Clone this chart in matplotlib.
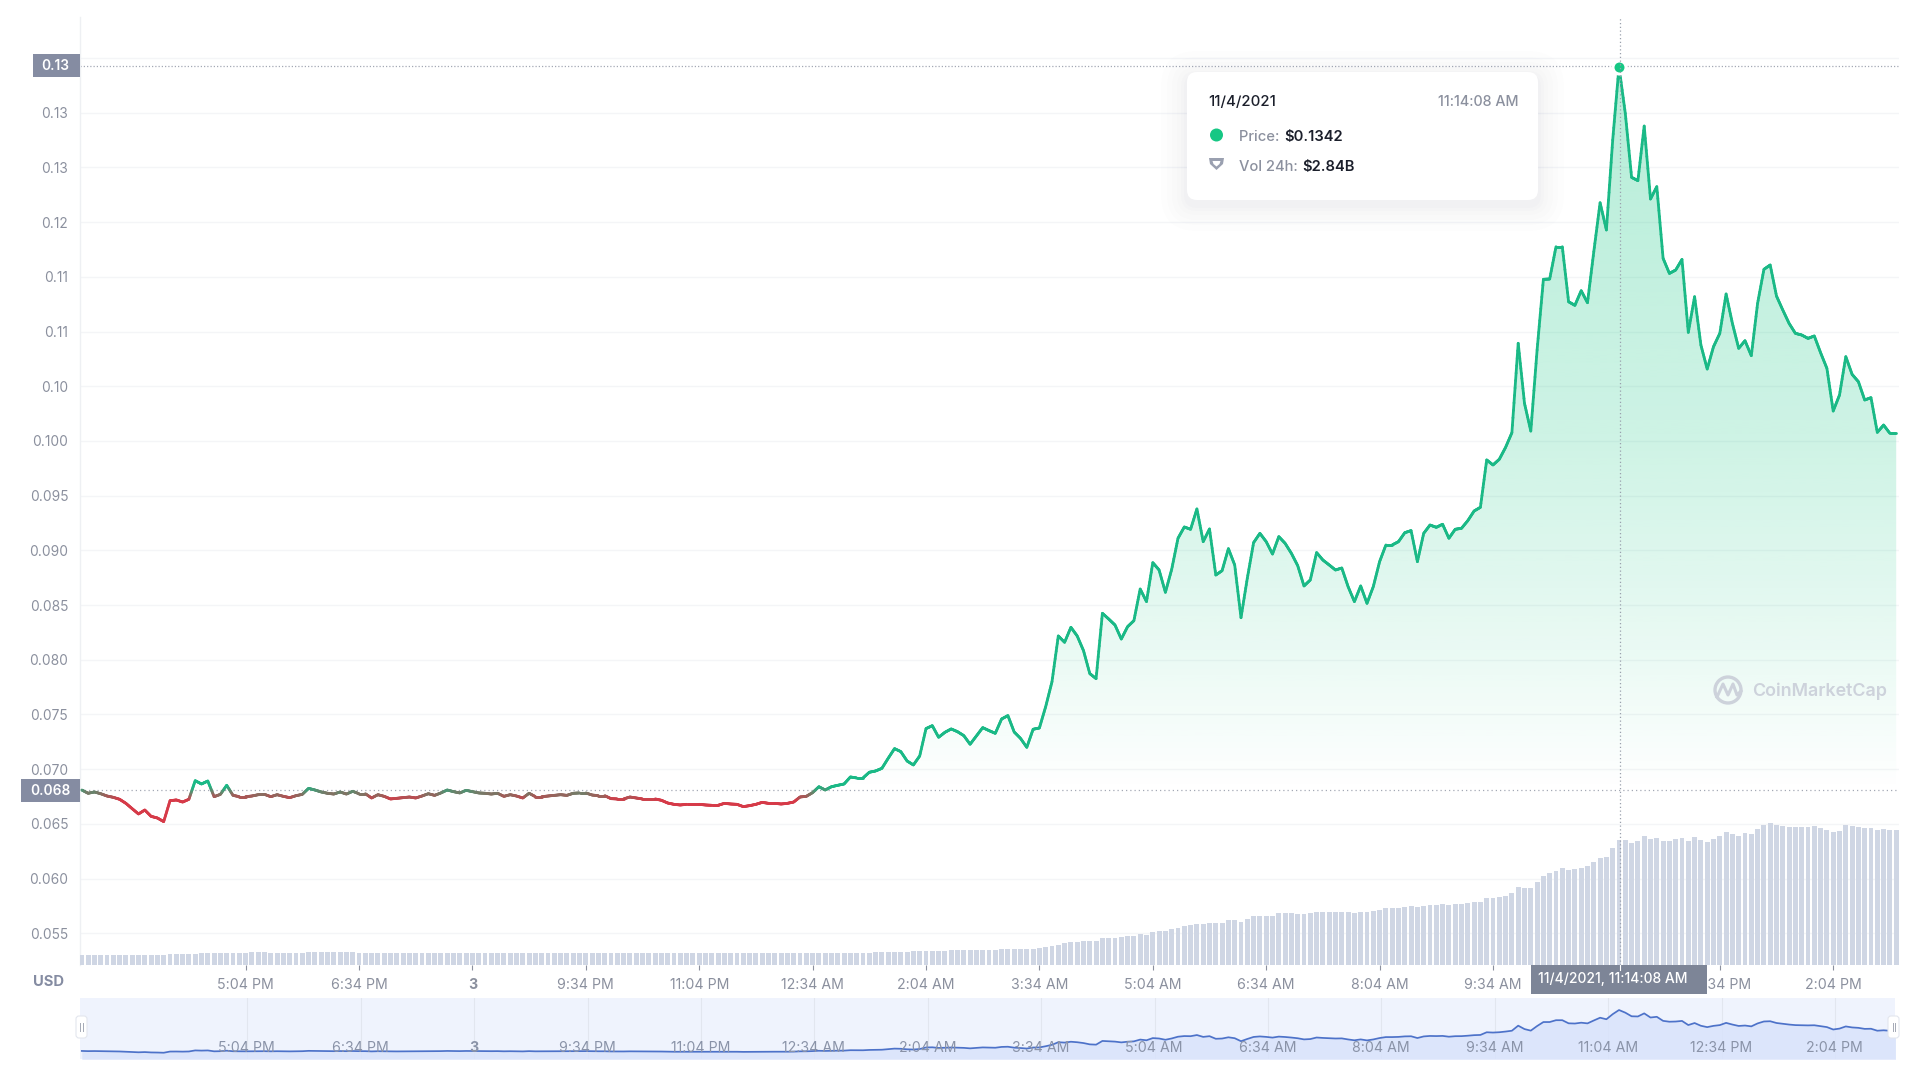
import numpy as np
import matplotlib
matplotlib.use("Agg")
import matplotlib.pyplot as plt
from matplotlib.collections import LineCollection
from matplotlib.colors import LinearSegmentedColormap, Normalize
from matplotlib.patches import FancyBboxPatch, Rectangle, Circle, Polygon
from matplotlib.path import Path

plt.rcParams['font.family'] = ['Inter', 'DejaVu Sans']

# ---------- data (five-minute samples, first at 2:54 PM) ----------
price = [
 .06809,.06779,.06791,.06775,.06754,.06742,.06724,.06687,.06638,.06590,
 .06626,.06568,.06553,.06520,.06711,.06718,.06699,.06724,.06894,.06864,
 .06891,.06748,.06769,.06852,.06760,.06748,.06748,.06754,.06766,.06769,
 .06748,.06766,.06751,.06739,.06757,.06769,.06824,.06809,.06791,.06779,
 .06772,.06791,.06772,.06797,.06775,.06775,.06736,.06766,.06751,.06727,
 .06733,.06739,.06745,.06736,.06754,.06775,.06760,.06782,.06809,.06794,
 .06782,.06806,.06794,.06782,.06779,.06772,.06779,.06751,.06766,.06754,
 .06736,.06779,.06748,.06748,.06754,.06760,.06766,.06760,.06779,.06782,
 .06782,.06763,.06757,.06757,.06730,.06727,.06727,.06745,.06736,.06727,
 .06727,.06727,.06715,.06690,.06678,.06672,.06678,.06678,.06678,.06672,
 .06669,.06669,.06687,.06681,.06678,.06657,.06666,.06678,.06696,.06687,
 .06687,.06681,.06687,.06699,.06745,.06751,.06785,.06839,.06809,.06839,
 .06852,.06864,.06928,.06919,.06919,.06971,.06983,.07007,.07099,.07187,
 .07160,.07074,.07038,.07120,.07370,.07397,.07291,.07336,.07367,.07342,
 .07306,.07227,.07303,.07379,.07352,.07327,.07458,.07489,.07339,.07281,
 .07199,.07364,.07376,.07571,.07799,.08217,.08159,.08296,.08217,.08083,
 .07873,.07827,.08424,.08372,.08317,.08189,.08302,.08357,.08646,.08531,
 .08887,.08820,.08616,.08826,.09110,.09213,.09192,.09378,.09079,.09195,
 .08774,.08814,.09015,.08866,.08384,.08744,.09070,.09155,.09079,.08966,
 .09125,.09064,.08972,.08860,.08674,.08729,.08979,.08911,.08866,.08820,
 .08838,.08668,.08531,.08674,.08515,.08668,.08896,.09049,.09049,.09079,
 .09161,.09180,.08896,.09155,.09231,.09210,.09238,.09110,.09192,.09201,
 .09271,.09359,.09393,.09826,.09780,.09832,.09941,.10075,.10892,.10343,
 .10090,.10831,.11477,.11480,.11775,.11775,.11272,.11239,.11373,.11263,
 .11730,.12177,.11928,.12750,.13420,.12994,.12409,.12379,.12878,.12211,
 .12324,.11669,.11531,.11562,.11659,.10992,.11318,.10876,.10657,.10861,
 .10983,.11343,.11074,.10846,.10916,.10779,.11257,.11568,.11608,.11324,
 .11196,.11074,.10983,.10968,.10937,.10959,.10806,.10663,.10273,.10419,
 .10770,.10608,.10541,.10374,.10395,.10078,.10145,.10069,.10069,
]

# 24h volume, relative units (125 = $2.84B; the chart has no volume scale)
volume = [
 10,10,10,10,10,10,10,10,10,10,
 10,10,10,10,11,11,11,11,11,12,
 12,12,12,12,12,12,12,13,13,13,
 12,12,12,12,12,12,13,13,13,13,
 13,13,13,13,12,12,12,12,12,12,
 12,12,12,12,12,12,11.7,12,12,12,
 12,12,12,12,11.7,12,12,12,12,12,
 12,12,12,12,12,11.7,12,12,12,12,
 12,12,12,12,12,12,12,11.7,12,12,
 12,12,12,12,12,12,12,12,11.7,12,
 12,12,12,12,12,12,12,12,12,12,
 11.7,12,12,12,12,12,12,12,12,12,
 12,12,12,12,12,12,13,13,13,13,
 13,13,14,14,14,14,14,14,15,15,
 15,15,15,15,15,15,16,16,16,16,
 16,16.5,17,18,19,20.5,22,22.7,23,23.7,
 23.7,23.7,27.3,27.3,27.3,27.7,29,29,31,30.3,
 32.7,34,33.7,35.7,37,39,40.3,41,41,42.3,
 41.7,42.3,44.7,44.7,43.3,45.7,48.7,49.3,49.3,49.3,
 51.7,51.7,51.7,51.3,51,51.7,53,53,53,53,
 53,53,51.7,52.7,52.7,54,55.3,56.7,56.7,56.7,
 58,58.7,58,59,60,60,60.7,59.7,60.7,61,
 62.3,63,63,66.7,66.7,67.7,69.3,71.7,78.3,76.7,
 76.7,82.7,89.3,91.7,94.3,96.7,95,96,97.3,99,
 102.7,107.3,107.7,116.7,125,124.7,121.7,123.7,129.3,125.7,
 127.3,123.7,123.7,125.7,127.3,123.7,127.7,124.7,123.3,126.3,
 129.3,133.3,131.3,129.3,131.7,131,135.7,140.3,141.7,140.3,
 139,138,138,138,138,138.7,136.7,135,133,134.3,
 140,138.7,138.3,136.7,137.3,134.7,135.7,135.3,135.3,
]

y_ticks = [.055,.060,.065,.070,.075,.080,.085,.090,.095,.100,.105,.110,.115,.120,.125,.130]
y_tick_labels = ['0.055','0.060','0.065','0.070','0.075','0.080','0.085','0.090','0.095',
                 '0.100','0.10','0.11','0.11','0.12','0.13','0.13']
grid_extra = [.135]
x_ticks = [26,44,62,80,98,116,134,152,170,188,206,224,242,260,278]
# the main axis has its 11:04 AM label under the hover badge, so it stays blank there
x_tick_labels = ['5:04 PM','6:34 PM','3','9:34 PM','11:04 PM','12:34 AM','2:04 AM','3:34 AM',
                 '5:04 AM','6:34 AM','8:04 AM','9:34 AM','','12:34 PM','2:04 PM']
nav_tick_labels = ['5:04 PM','6:34 PM','3','9:34 PM','11:04 PM','12:34 AM','2:04 AM','3:34 AM',
                   '5:04 AM','6:34 AM','8:04 AM','9:34 AM','11:04 AM','12:34 PM','2:04 PM']
base_price = .06809
hover_index = 244
hover_price = .1342
hover_line = .13431

# ---------- style ----------
GREEN = '#1ab986'
DOT = '#16c784'
RED = '#d63a48'
GRID = '#f4f5f7'
TXT = '#8b909e'
BADGE = '#858ca2'
DARK = '#1b1f2b'
BAR = '#cfd6e4'

W, H = 1920, 1080
fig = plt.figure(figsize=(19.2, 10.8), dpi=100, facecolor='white')
def rect(l, t, r, b):
    return [l / W, 1 - b / H, (r - l) / W, (b - t) / H]

x = np.arange(len(price))
p = np.array(price)
xlim = ((80 - 81.8) / 6.3, (1899 - 81.8) / 6.3)

# ---------- main price axes ----------
ax = fig.add_axes(rect(80, 17, 1899, 965))
ax.set_zorder(1)
ax.set_facecolor('none')
ax.set_xlim(*xlim)
ax.set_ylim(.13 - (965 - 112.7) / 10940, .13 + (112.7 - 17) / 10940)
for s in ('top', 'right', 'bottom'):
    ax.spines[s].set_visible(False)
ax.spines['left'].set_color('#eef0f3')
ax.spines['left'].set_linewidth(1)
ax.set_yticks(y_ticks, y_tick_labels)
ax.tick_params(axis='y', length=0, pad=8.5, labelsize=9.9, labelcolor=TXT)
ax.set_xticks(x_ticks, x_tick_labels)
ax.tick_params(axis='x', length=3.6, width=0.8, color='#8b909e', pad=5.5, labelsize=10.2, labelcolor=TXT)
ax.get_xticklabels()[2].set_fontweight('bold')
for v in y_ticks + grid_extra:
    ax.axhline(v, color=GRID, lw=1, zorder=0.5)

# gradient area between the price and the open-price baseline
poly = ax.fill_between(x, p, base_price, where=p >= base_price, interpolate=True, color='none')
clip = Path.make_compound_path(*poly.get_paths())
stops_v = [.068, .07, .08, .10, .13, .135]
stops_a = [.0, .015, .085, .21, .30, .31]
grad_v = np.linspace(.068, .135, 256)
rgba = np.zeros((256, 1, 4))
rgba[..., :3] = matplotlib.colors.to_rgb(DOT)
rgba[:, 0, 3] = np.interp(grad_v, stops_v, stops_a)
im = ax.imshow(rgba, origin='lower', aspect='auto', extent=(xlim[0], xlim[1], .068, .135), zorder=1,
               interpolation='bilinear')
im.set_clip_path(clip, transform=ax.transData)
ax.set_xlim(*xlim)
ax.set_ylim(.13 - (965 - 112.7) / 10940, .13 + (112.7 - 17) / 10940)

# price line, coloured by level around the baseline
n_sub = 12
xs = np.linspace(0, len(p) - 1, (len(p) - 1) * n_sub + 1)
ys = np.interp(xs, x, p)
pts = np.column_stack([xs, ys]).reshape(-1, 1, 2)
segs = np.concatenate([pts[:-1], pts[1:]], axis=1)
cmap = LinearSegmentedColormap.from_list('rg', [RED, GREEN])
lc = LineCollection(segs, cmap=cmap, norm=Normalize(.0672, .0684), linewidths=2.0,
                    capstyle='round', joinstyle='round', zorder=3)
lc.set_array((ys[:-1] + ys[1:]) / 2)
ax.add_collection(lc)

ax.axhline(base_price, color='#a4a9b5', lw=0.9, ls=(0, (1, 2.4)), zorder=2)
ax.axhline(hover_line, color='#a4a9b5', lw=0.9, ls=(0, (1, 1.6)), zorder=2)
ax.plot([hover_index], [hover_price], 'o', ms=9.4, mfc=DOT, mec='white', mew=2.2, zorder=4)

# ---------- volume bars ----------
axv = ax.twinx()
axv.set_zorder(2)
axv.set_facecolor('none')
axv.set_ylim(0, 948)
axv.set_xlim(*xlim)
for s in axv.spines.values():
    s.set_visible(False)
axv.set_yticks([])
axv.bar(x, volume, width=0.78, color=BAR, linewidth=0, zorder=1)
axv.axvline(hover_index + 0.1, color='#9aa0ad', lw=0.9, ls=(0, (1, 2)), zorder=3)

# ---------- navigator ----------
nav = fig.add_axes(rect(80, 998.3, 1895, 1059.3))
nav.set_zorder(3)
nav.set_facecolor('#eff3fd')
nav.set_xlim(xlim[0], (1895 - 81.8) / 6.3)
nav.set_ylim(.068 + (1051 - 1059.3) / 619, .068 + (1051 - 998.3) / 619)
for s in nav.spines.values():
    s.set_visible(False)
nav.set_yticks([])
nav.set_xticks([t + 0.2 for t in x_ticks], nav_tick_labels)
nav.tick_params(axis='x', length=0, pad=-13, labelsize=10.2, labelcolor='#8a93a8')
nav.get_xticklabels()[2].set_fontweight('bold')
nav.set_axisbelow(False)
for t in x_ticks:
    nav.axvline(t + 0.3, color='#e2e6ef', lw=0.8, zorder=0.5)
nav.fill_between(x, p, nav.get_ylim()[0], color='#d9e3fb', alpha=0.85, lw=0, zorder=1)
nav.plot(x, p, color='#4d72c9', lw=1.25, zorder=2)

# ---------- overlay: badges, tooltip, watermark, handles ----------
ov = fig.add_axes([0, 0, 1, 1])
ov.set_zorder(10)
ov.set_xlim(0, W)
ov.set_ylim(H, 0)
ov.axis('off')

ov.add_patch(Rectangle((33, 54), 47, 23, color=BADGE, lw=0))
ov.text(55.5, 65.5, '0.13', color='white', fontsize=9.9, ha='center', va='center', fontweight='semibold')
ov.add_patch(Rectangle((21, 779), 59, 23, color=BADGE, lw=0))
ov.text(50, 791, '0.068', color='white', fontsize=9.9, ha='center', va='center', fontweight='semibold')
ov.text(49, 982, 'USD', color=BADGE, fontsize=10.6, ha='center', va='center', fontweight='bold')

# time badge
ov.add_patch(Rectangle((1531, 965), 176, 28.5, color='#7d8597', lw=0))
ov.text(1613, 979, '11/4/2021, 11:14:08 AM', color='white', fontsize=10.0, ha='center', va='center',
        fontweight='medium')
ov.plot([1619.5, 1619.5], [965, 970], color='white', lw=0.8)

# tooltip
for g, a in [(26, .006), (20, .008), (15, .010), (10, .012), (6, .014), (3, .016)]:
    ov.add_patch(FancyBboxPatch((1187 - g, 72 - g + 5), 351 + 2 * g, 128 + 2 * g,
                                boxstyle='round,pad=0,rounding_size=%d' % (10 + g),
                                fc='#59607a', ec='none', alpha=a))
ov.add_patch(FancyBboxPatch((1187, 72), 351, 128, boxstyle='round,pad=0,rounding_size=10',
                            fc='white', ec='none'))
ov.text(1208, 102, '11/4/2021', color=DARK, fontsize=10.8, ha='left', va='center', fontweight='medium')
ov.text(1518, 102, '11:14:08 AM', color=TXT, fontsize=10.3, ha='right', va='center', fontweight='medium')
ov.add_patch(Circle((1216.5, 135), 6.5, color=DOT, lw=0))
ov.text(1239, 137, 'Price: ', color=TXT, fontsize=10.6, ha='left', va='center', fontweight='medium')
ov.text(1284, 137, '$0.1342', color=DARK, fontsize=10.6, ha='left', va='center', fontweight='semibold')
ov.add_patch(Polygon([(1209, 158), (1224, 158), (1223, 164), (1216.5, 170), (1210, 164)],
                     closed=True, fc='#9aa0b0', ec='none'))
ov.add_patch(Polygon([(1212.5, 161), (1220.5, 161), (1219.5, 164), (1216.5, 166.5), (1213.5, 164)],
                     closed=True, fc='white', ec='none'))
ov.text(1239, 167, 'Vol 24h: ', color=TXT, fontsize=10.6, ha='left', va='center', fontweight='medium')
ov.text(1302, 167, '$2.84B', color=DARK, fontsize=10.6, ha='left', va='center', fontweight='semibold')

# watermark
ov.add_patch(Circle((1728, 690), 13, fc='none', ec='#cdd2db', lw=2.4))
ov.plot([1717, 1723, 1728, 1733, 1737, 1741], [697, 684, 695, 684, 695, 691], color='#cdd2db', lw=2.2,
        solid_joinstyle='round')
ov.text(1752, 691, 'CoinMarketCap', color='#cdd2db', fontsize=12.9, ha='left', va='center', fontweight='semibold')

# navigator handles
for l, xc in [(76, 81.5), (1888, 1894)]:
    ov.add_patch(FancyBboxPatch((l, 1016), 11, 22, boxstyle='round,pad=0,rounding_size=3',
                                fc='white', ec='#e3e6ee', lw=0.8))
    ov.plot([xc - 1.2, xc - 1.2], [1023, 1031], color='#a4a9b5', lw=0.7)
    ov.plot([xc + 1.2, xc + 1.2], [1023, 1031], color='#a4a9b5', lw=0.7)

fig.savefig('out.png', dpi=100, facecolor='white')
